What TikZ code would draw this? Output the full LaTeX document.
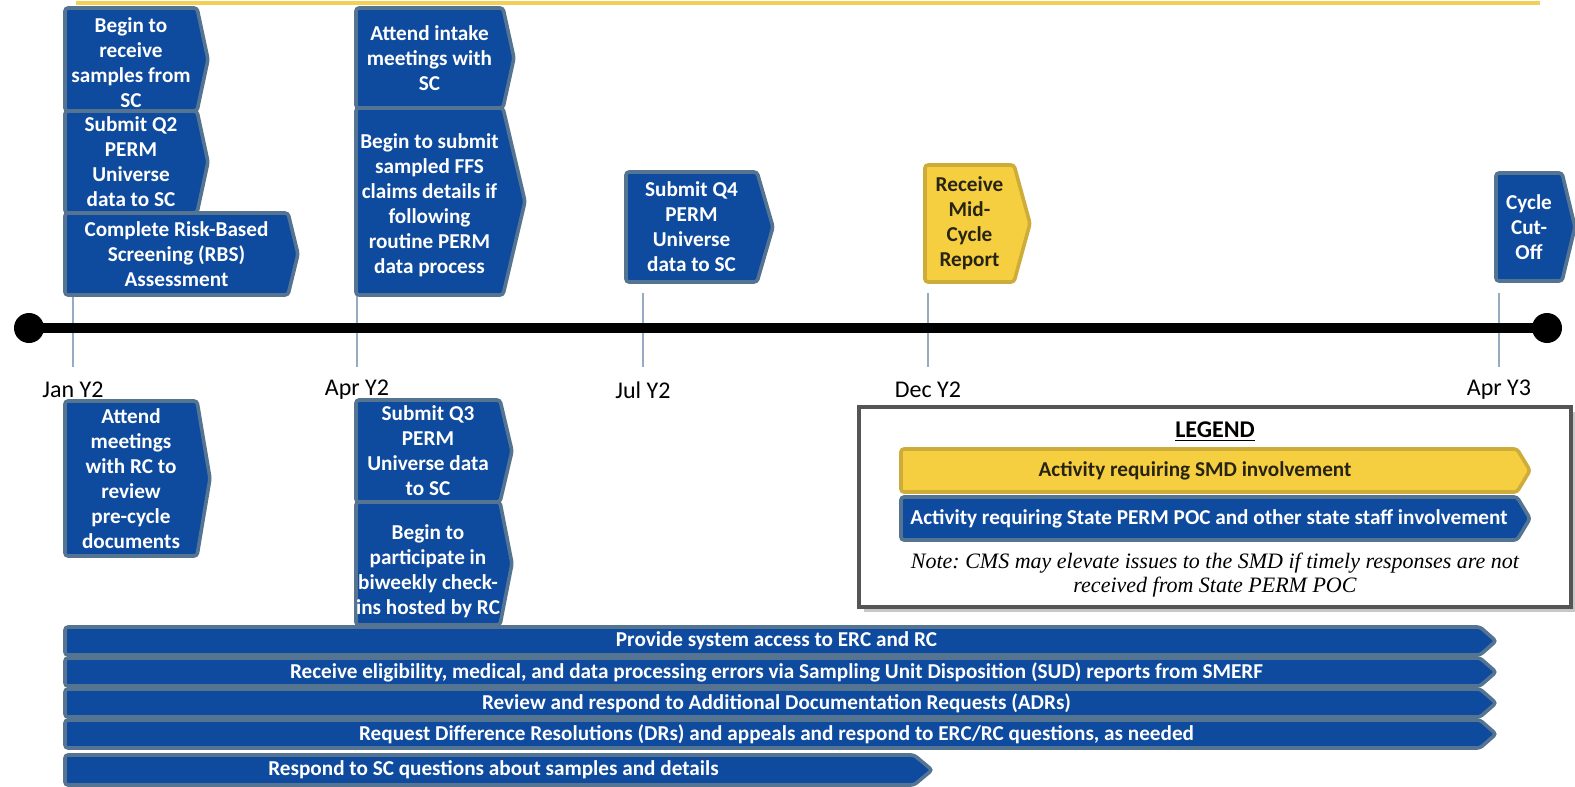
\documentclass[tikz,border=0pt]{standalone}
\usepackage{fontspec}
\setmainfont{Carlito}
\newfontfamily\notefont{Liberation Serif}
\frenchspacing
\definecolor{cblue}{RGB}{14,74,158}
\definecolor{cborder}{RGB}{84,116,146}
\definecolor{cyel}{RGB}{245,207,63}
\definecolor{cyelb}{RGB}{206,172,58}
\definecolor{cdark}{RGB}{40,36,20}
\definecolor{ctop}{RGB}{242,207,85}
\definecolor{ctick}{RGB}{150,170,192}
\definecolor{cframe}{RGB}{85,85,85}
\newcommand{\chevbox}[9]{%
  \draw[#2] (#4,#5) -- (#6,#5) -- (#8,{(#5+#7)/2}) -- (#6,#7) -- (#4,#7) -- cycle;
  \node[#3] (#1) at ({(#4+#6)/2},{(#5+#7)/2}) {#9};
}
\tikzset{
  bluebox/.style={fill=cblue, draw=cborder, line width=1.8pt, rounded corners=1.5pt},
  yelbox/.style={fill=cyel, draw=cyelb, line width=1.8pt, rounded corners=1.5pt},
  btxt/.style={text=white, font=\bfseries\fontsize{10.6}{12.5}\selectfont, align=center, inner sep=0pt},
  ytxt/.style={text=cdark, font=\bfseries\fontsize{10.6}{12.5}\selectfont, align=center, inner sep=0pt},
  bartxt/.style={btxt, xshift=2pt},
  dot/.style={circle, fill=black, minimum size=15pt, inner sep=0pt},
  tickline/.style={draw=ctick, line width=0.6pt},
  datelbl/.style={font=\fontsize{12}{14}\selectfont, text=black, inner sep=0pt},
  topline/.style={draw=ctop, line width=1.6pt},
  legframe/.style={draw=cframe, line width=2pt, fill=white},
  notetxt/.style={font=\notefont\itshape\fontsize{11}{12}\selectfont, align=center, inner sep=0pt}
}
\begin{document}
\begin{tikzpicture}[x=0.5pt,y=-0.5pt]
\useasboundingbox (0,0) rectangle (1575,787);
% top yellow line
\coordinate (tl) at (76,3);
\coordinate (tr) at (1540,3);
\draw[topline] (tl) -- (tr);
% ticks and date labels
\foreach \n/\x/\t in {jan/73/Jan Y2, apr/357/Apr Y2, jul/643/Jul Y2, dec/928/Dec Y2, aprb/1499/Apr Y3} {
  \coordinate (t\n a) at (\x,293);
  \coordinate (t\n b) at (\x,367);
  \draw[tickline] (t\n a) -- (t\n b);
  \node[datelbl] (l\n) at (\x,390) {\t};
}
% timeline
\node[dot] (d1) at (29,328) {};
\node[dot] (d2) at (1547,328) {};
\draw[line width=5pt] (d1.center) -- (d2.center);
% top chevrons at Jan
\chevbox{j1}{bluebox}{btxt,yshift=-1.5pt}{65}{8}{197}{111}{208}{Begin to\\receive\\samples from\\SC}
\chevbox{j2}{bluebox}{btxt}{65}{111}{197}{213}{208}{Submit Q2\\PERM\\Universe\\data to SC}
\chevbox{j3}{bluebox}{btxt}{65}{213}{288}{295}{298}{Complete Risk-Based\\Screening (RBS)\\Assessment}
% top chevrons at Apr
\chevbox{a1}{bluebox}{btxt}{356}{8}{503}{108}{514}{Attend intake\\meetings with\\SC}
\chevbox{a2}{bluebox}{btxt,yshift=-2pt}{356}{108}{503}{295}{525}{Begin to submit\\sampled FFS\\claims details if\\following\\routine PERM\\data process}
% Jul, Dec, Apr Y3
\chevbox{q4}{bluebox}{btxt}{626}{172}{757}{282}{773}{Submit Q4\\PERM\\Universe\\data to SC}
\chevbox{mid}{yelbox}{ytxt}{925}{165}{1014}{282}{1030}{Receive\\Mid-\\Cycle\\Report}
\chevbox{cut}{bluebox}{btxt}{1496}{173}{1562}{281}{1575}{Cycle\\Cut-\\Off}
% bottom chevrons
\chevbox{jb}{bluebox}{btxt}{65}{401}{197}{556}{210}{Attend\\meetings\\with RC to\\review\\pre-cycle\\documents}
\chevbox{ab1}{bluebox}{btxt}{356}{400}{500}{502}{512}{Submit Q3\\PERM\\Universe data\\to SC}
\chevbox{ab2}{bluebox}{btxt,yshift=-4pt}{356}{502}{500}{625}{512}{Begin to\\participate in\\biweekly check-\\ins hosted by RC}
% long bars
\chevbox{r1}{bluebox}{bartxt}{65}{627}{1480}{655}{1496}{Provide system access to ERC and RC}
\chevbox{r2}{bluebox}{bartxt}{65}{658}{1480}{686}{1496}{Receive eligibility, medical, and data processing errors via Sampling Unit Disposition (SUD) reports from SMERF}
\chevbox{r3}{bluebox}{bartxt}{65}{689}{1480}{717}{1496}{Review and respond to Additional Documentation Requests (ADRs)}
\chevbox{r4}{bluebox}{bartxt}{65}{720}{1480}{748}{1496}{Request Difference Resolutions (DRs) and appeals and respond to ERC/RC questions, as needed}
\chevbox{r5}{bluebox}{bartxt}{65}{755}{914}{785}{932}{Respond to SC questions about samples and details}
% legend
\fill[black!22] (864,412) rectangle (1575,612);
\draw[legframe] (859,407) rectangle (1571,607);
\node[font=\bfseries\fontsize{12}{14}\selectfont, text=black, inner sep=0pt] (legt) at (1215,432) {\underline{LEGEND}};
\chevbox{legy}{yelbox}{ytxt,xshift=-7pt}{901}{449}{1517}{492}{1530}{Activity requiring SMD involvement}
\chevbox{legb}{bluebox}{btxt}{901}{497}{1517}{540}{1530}{Activity requiring State PERM POC and other state staff involvement}
\node[notetxt] (note) at (1215,575) {Note: CMS may elevate issues to the SMD if timely responses are not\\received from State PERM POC};
\end{tikzpicture}
\end{document}
